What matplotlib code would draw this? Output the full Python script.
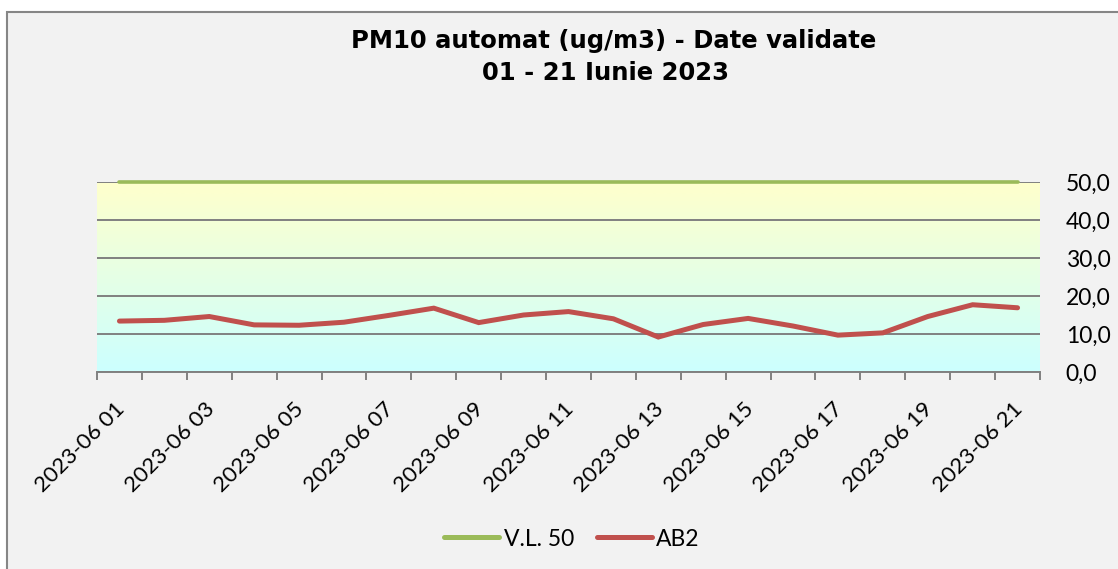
import matplotlib
matplotlib.use("Agg")
import matplotlib.pyplot as plt
import numpy as np
from matplotlib.patches import Rectangle
from matplotlib.transforms import ScaledTranslation

days = ['2023-06 %02d' % d for d in range(1, 22)]
vl50 = [50.0] * 21
ab2 = [13.4, 13.6, 14.6, 12.4, 12.3, 13.1, 14.9, 16.8, 13.0, 15.0, 15.9,
       14.0, 9.2, 12.5, 14.1, 12.1, 9.7, 10.3, 14.6, 17.7, 16.9]
y_ticks = [0, 10, 20, 30, 40, 50]
y_labels = ['0,0', '10,0', '20,0', '30,0', '40,0', '50,0']

W, H = 1118, 569
fig = plt.figure(figsize=(W / 100, H / 100), dpi=100, facecolor='white')

# chart area background with border
bg = Rectangle((7.3 / W, -0.05), 1.2, 557.3 / H + 0.05, transform=fig.transFigure,
               facecolor='#F2F2F2', edgecolor='#868686', linewidth=1.5, zorder=-1)
fig.patches.append(bg)

ax = fig.add_axes([97 / W, (H - 372) / H, 943 / W, 190 / H])
ax.set_facecolor('none')

x = np.arange(len(days))
ax.set_xlim(-0.5, len(days) - 0.5)
ax.set_ylim(0, 50)

# yellow -> cyan gradient
top = np.array([255, 255, 204]) / 255
bot = np.array([204, 255, 255]) / 255
t = np.linspace(1, 0, 256)[:, None]
grad = (t * top + (1 - t) * bot)[:, None, :]
ax.imshow(grad, aspect='auto', extent=(-0.5, len(days) - 0.5, 0, 50),
          origin='upper', zorder=0, interpolation='bilinear')

ax.yaxis.grid(True, color='#808080', linewidth=1.4, zorder=0.5)
ax.set_axisbelow(True)

ax.plot(x, vl50, color='#9BBB59', linewidth=2.6, solid_capstyle='round',
        label='V.L. 50', zorder=3, clip_on=False)
ax.plot(x, ab2, color='#C0504D', linewidth=3.6, solid_capstyle='round',
        solid_joinstyle='miter', label='AB2', zorder=3)

for s in ['top', 'left', 'right']:
    ax.spines[s].set_visible(False)
ax.spines['bottom'].set_color('#808080')
ax.spines['bottom'].set_linewidth(1.4)

font = 'Lato'
fs = 16

ax.yaxis.tick_right()
ax.set_yticks(y_ticks)
ax.set_yticklabels(y_labels, fontfamily=font, fontsize=16.5)
ax.tick_params(axis='y', length=0, pad=18.5)

ax.set_xticks(np.arange(-0.5, len(days)), labels=[])
ax.tick_params(axis='x', which='major', direction='out', length=5.5,
               width=1.4, color='#808080')
ax.set_xticks(x[::2], minor=True)
ax.set_xticklabels(days[::2], minor=True, fontfamily=font, fontsize=fs,
                   rotation=45, ha='right', va='center', rotation_mode='anchor')
ax.tick_params(axis='x', which='minor', length=0, pad=24.5)
off = ScaledTranslation(2 / 100, 0, fig.dpi_scale_trans)
for lab in ax.get_xticklabels(minor=True):
    lab.set_transform(lab.get_transform() + off)

fig.text(614 / W, 1 - 41 / H, 'PM10 automat (ug/m3) - Date validate',
         ha='center', va='center', fontfamily='DejaVu Sans', fontweight='bold',
         fontsize=17.5)
fig.text(606 / W, 1 - 73 / H, '01 - 21 Iunie 2023',
         ha='center', va='center', fontfamily='DejaVu Sans', fontweight='bold',
         fontsize=17.5)

leg = fig.legend(loc='center', bbox_to_anchor=(572 / W, 1 - 539 / H), ncol=2,
                 frameon=False, prop={'family': font, 'size': 16.5},
                 handlelength=2.4, handletextpad=0.2, columnspacing=1.0)
for ln in leg.get_lines():
    ln.set_linewidth(3.6)

fig.savefig('out.png', dpi=100, facecolor=fig.get_facecolor())
